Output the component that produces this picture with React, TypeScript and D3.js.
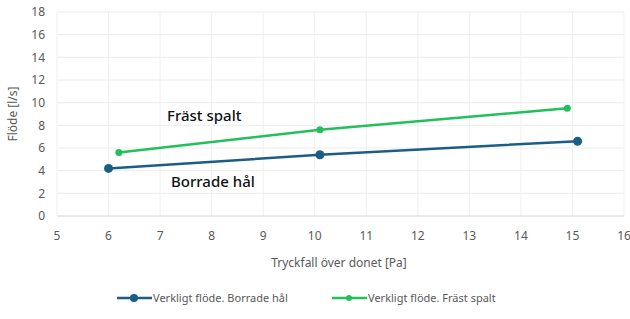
import * as d3 from "d3";
import { useEffect, useRef } from "react";

// data
const borradeX = [6, 10.1, 15.1];
const borradeY = [4.2, 5.4, 6.6];
const frastX = [6.2, 10.1, 14.9];
const frastY = [5.6, 7.6, 9.5];
const xTicks = [5, 6, 7, 8, 9, 10, 11, 12, 13, 14, 15, 16];
const yTicks = [0, 2, 4, 6, 8, 10, 12, 14, 16, 18];
const seriesNames = ["Verkligt flöde. Borrade hål", "Verkligt flöde. Fräst spalt"];

const BLUE = "#1b5e85";
const GREEN = "#22c05c";
const FONT = "'Noto Sans', 'Open Sans', sans-serif";

const App = () => {
  const ref = useRef<SVGSVGElement>(null);

  useEffect(() => {
    const svg = d3.select(ref.current);
    svg.selectAll("*").remove();

    const x = d3.scaleLinear().domain([5, 16]).range([57, 624]);
    const y = d3.scaleLinear().domain([0, 18]).range([216, 12]);

    // grid
    svg.append("g").selectAll("line").data(yTicks.filter(t => t > 0)).enter().append("line")
      .attr("x1", x(5)).attr("x2", x(16))
      .attr("y1", d => y(d)).attr("y2", d => y(d))
      .attr("stroke", "#ececec").attr("stroke-width", 1);
    svg.append("g").selectAll("line").data(xTicks).enter().append("line")
      .attr("x1", d => x(d)).attr("x2", d => x(d))
      .attr("y1", y(0)).attr("y2", y(18))
      .attr("stroke", "#efefef").attr("stroke-width", 1);
    svg.append("line")
      .attr("x1", x(5)).attr("x2", x(16)).attr("y1", y(0)).attr("y2", y(0))
      .attr("stroke", "#d4d4d4").attr("stroke-width", 1);

    // tick labels
    svg.append("g").selectAll("text").data(yTicks).enter().append("text")
      .attr("x", 45).attr("y", d => y(d)).attr("dy", "0.35em")
      .attr("text-anchor", "end").attr("font-size", 12).attr("fill", "#595959")
      .attr("font-family", FONT).text(d => d);
    svg.append("g").selectAll("text").data(xTicks).enter().append("text")
      .attr("x", d => x(d)).attr("y", 240)
      .attr("text-anchor", "middle").attr("font-size", 12).attr("fill", "#595959")
      .attr("font-family", FONT).text(d => d);

    // axis titles
    svg.append("text")
      .attr("transform", `translate(17,${(y(0) + y(18)) / 2}) rotate(-90)`)
      .attr("text-anchor", "middle").attr("font-size", 12).attr("fill", "#595959")
      .attr("font-family", FONT).text("Flöde [l/s]");
    svg.append("text")
      .attr("x", 339).attr("y", 267)
      .attr("text-anchor", "middle").attr("font-size", 12).attr("fill", "#595959")
      .attr("font-family", FONT).text("Tryckfall över donet [Pa]");

    // series
    const series = [
      { xs: borradeX, ys: borradeY, color: BLUE, r: 4.5 },
      { xs: frastX, ys: frastY, color: GREEN, r: 3.5 },
    ];
    const line = d3.line<[number, number]>().x(d => x(d[0])).y(d => y(d[1]));
    series.forEach(s => {
      const pts = s.xs.map((v, i) => [v, s.ys[i]] as [number, number]);
      svg.append("path").datum(pts).attr("d", line)
        .attr("fill", "none").attr("stroke", s.color).attr("stroke-width", 2.5);
      svg.append("g").selectAll("circle").data(pts).enter().append("circle")
        .attr("cx", d => x(d[0])).attr("cy", d => y(d[1])).attr("r", s.r)
        .attr("fill", s.color);
    });

    // inline labels
    svg.append("text").attr("x", 167).attr("y", 121)
      .attr("font-size", 15).attr("font-weight", 500).attr("fill", "#111")
      .attr("font-family", FONT).text("Fräst spalt");
    svg.append("text").attr("x", 171).attr("y", 187)
      .attr("font-size", 15).attr("font-weight", 500).attr("fill", "#111")
      .attr("font-family", FONT).text("Borrade hål");

    // legend
    const legendX = [117, 332];
    [BLUE, GREEN].forEach((c, i) => {
      const lx = legendX[i];
      svg.append("line").attr("x1", lx).attr("x2", lx + 35).attr("y1", 298).attr("y2", 298)
        .attr("stroke", c).attr("stroke-width", 2.5);
      svg.append("circle").attr("cx", lx + 17).attr("cy", 298).attr("r", i === 0 ? 4 : 3).attr("fill", c);
      svg.append("text").attr("x", lx + 36).attr("y", 298).attr("dy", "0.35em")
        .attr("font-size", 11).attr("fill", "#595959").attr("font-family", FONT)
        .text(seriesNames[i]);
    });
  }, []);

  return (
    <svg ref={ref} width={630} height={319}
      style={{ position: "absolute", left: 0, top: 0, background: "#fff" }} />
  );
};

export default App;
